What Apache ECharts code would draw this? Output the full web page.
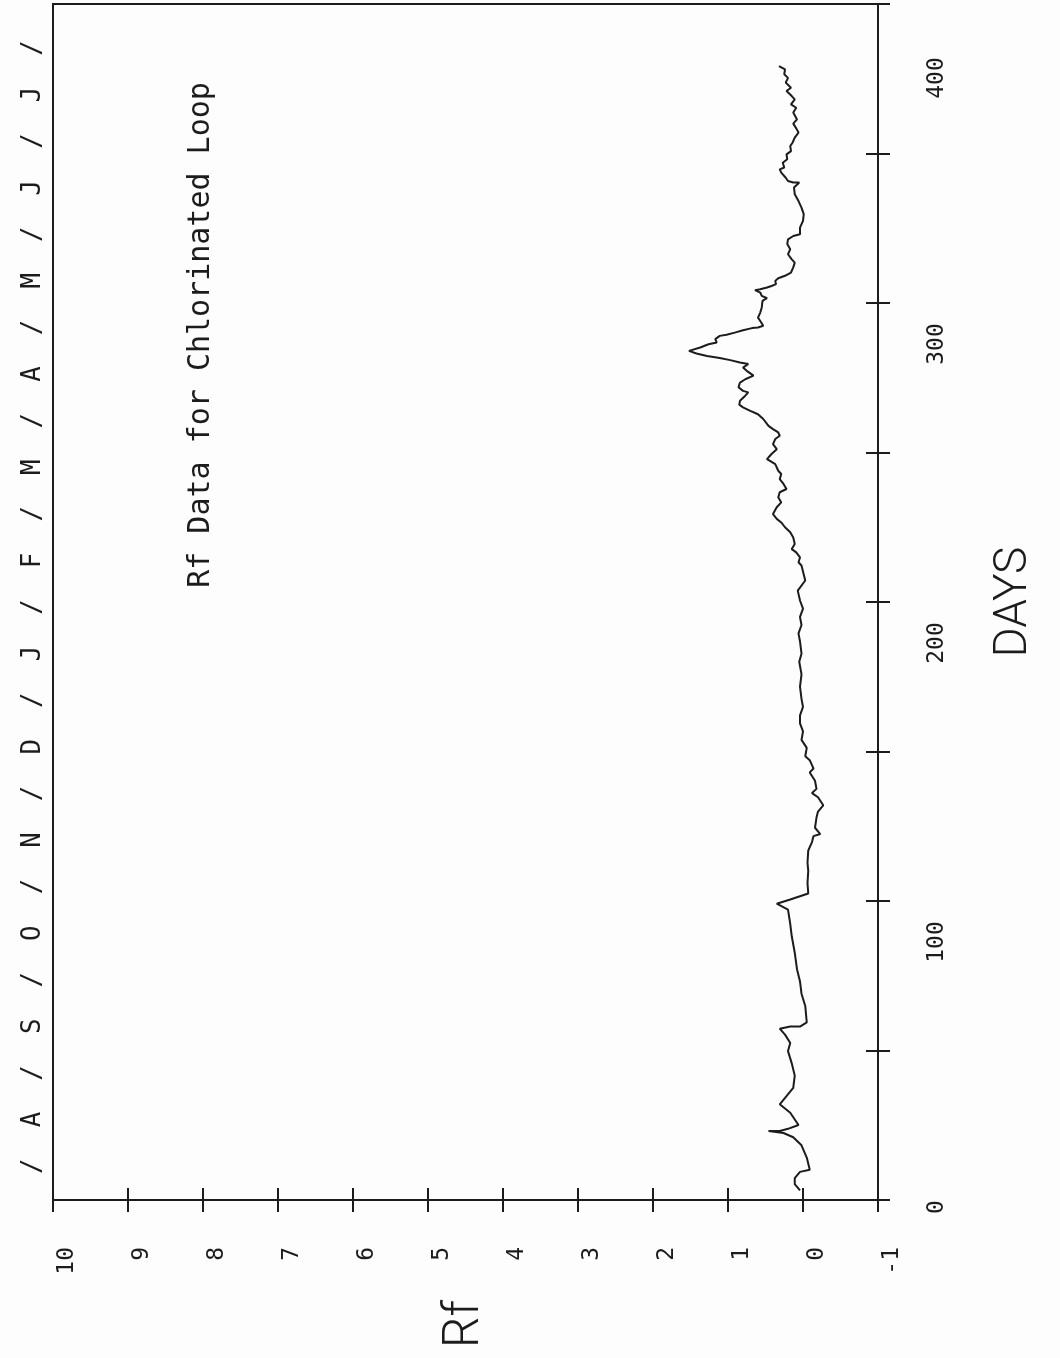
<!DOCTYPE html>
<html>
<head>
<meta charset="utf-8">
<script src="https://cdn.jsdelivr.net/npm/echarts@6/dist/echarts.min.js"></script>
<style>
  html, body { margin: 0; padding: 0; background: #fdfdfd; }
  #rfChart { width: 1060px; height: 1358px; }
</style>
</head>
<body>
<div id="rfChart"></div>
<script>
// values, in day order
const days = [
  3.2, 5.3, 7.3, 9.4, 10.1, 14.2, 18.3, 21.0, 22.4, 23.1, 23.1, 23.8, 25.1, 29.2, 32.0, 37.5,
  41.6, 45.7, 49.8, 52.5, 55.3, 57.3, 58.0, 58.0, 59.4, 64.9, 69.0, 73.1, 77.2, 82.7, 88.2, 92.3,
  97.1, 99.1, 100.5, 102.5, 106.0, 110.1, 112.8, 116.9, 119.7, 121.7, 122.4, 124.5, 127.9, 129.9,
  132.0, 134.7, 136.1, 137.5, 140.2, 143.0, 144.3, 147.1, 148.4, 151.2, 153.9, 156.7, 159.4, 162.1,
  164.9, 167.6, 171.7, 175.8, 180.0, 182.7, 186.8, 189.5, 192.3, 195.0, 197.8, 200.5, 203.8, 207.2,
  212.2, 213.3, 214.9, 216.6, 217.7, 219.4, 221.6, 223.3, 225.0, 226.6, 227.8, 229.4, 231.7, 233.3,
  235.0, 236.7, 237.8, 239.5, 241.1, 242.8, 243.9, 246.1, 247.2, 247.8, 249.5, 251.1, 252.8, 254.5,
  255.6, 256.7, 257.8, 258.9, 261.2, 262.8, 264.0, 265.1, 266.0, 267.3, 269.0, 270.1, 270.6, 271.8,
  273.4, 274.5, 275.7, 277.3, 278.4, 279.6, 280.1, 280.9, 281.6, 282.3, 283.1, 284.0, 285.1, 286.2,
  286.8, 287.9, 289.0, 289.4, 290.1, 290.9, 291.6, 291.8, 292.4, 294.0, 295.1, 296.8, 298.5, 300.7,
  301.6, 302.4, 303.5, 304.3, 304.6, 305.2, 305.7, 306.3, 307.4, 308.3, 309.1, 310.2, 311.9, 313.5,
  314.6, 316.3, 318.0, 319.7, 321.3, 322.4, 323.0, 323.5, 325.2, 327.5, 329.7, 331.9, 334.1, 336.4,
  338.6, 340.3, 340.3, 340.8, 341.9, 343.6, 344.7, 345.3, 346.9, 348.1, 349.7, 350.8, 352.5, 353.6,
  355.3, 357.0, 358.4, 360.0, 361.4, 363.7, 365.3, 366.4, 368.1, 369.2, 370.9, 372.0, 373.7, 375.3,
  376.5, 378.1, 379.2
]
const rfValues = [
  0.04, 0.11, 0.11, 0.04, -0.09, -0.05, 0.02, 0.13, 0.26, 0.46, 0.31, 0.20, 0.06, 0.17, 0.31, 0.13,
  0.11, 0.15, 0.20, 0.17, 0.24, 0.31, 0.17, 0.04, -0.05, -0.03, 0.02, 0.04, 0.08, 0.11, 0.15, 0.17,
  0.20, 0.35, 0.17, -0.07, -0.06, -0.07, -0.06, -0.07, -0.12, -0.14, -0.23, -0.16, -0.18, -0.20,
  -0.27, -0.20, -0.12, -0.18, -0.16, -0.09, -0.14, -0.09, -0.03, -0.05, 0.02, 0.00, 0.04, 0.04,
  0.00, 0.02, 0.04, 0.02, 0.05, 0.02, 0.04, 0.06, 0.02, 0.04, 0.00, 0.04, 0.07, -0.03,
  0.02, 0.06, 0.04, 0.09, 0.15, 0.11, 0.13, 0.17, 0.24, 0.29, 0.35, 0.40, 0.35, 0.29,
  0.33, 0.31, 0.22, 0.26, 0.31, 0.29, 0.33, 0.37, 0.44, 0.48, 0.42, 0.35, 0.40, 0.37,
  0.31, 0.33, 0.40, 0.46, 0.53, 0.60, 0.71, 0.80, 0.85, 0.84, 0.77, 0.73, 0.80, 0.86,
  0.84, 0.77, 0.66, 0.75, 0.80, 0.73, 0.84, 0.97, 1.11, 1.28, 1.42, 1.52, 1.37, 1.26,
  1.15, 1.17, 1.11, 1.02, 0.91, 0.80, 0.68, 0.60, 0.53, 0.57, 0.60, 0.57, 0.55, 0.54,
  0.48, 0.55, 0.57, 0.64, 0.57, 0.48, 0.42, 0.36, 0.37, 0.33, 0.24, 0.16, 0.13, 0.11,
  0.15, 0.20, 0.17, 0.21, 0.20, 0.13, 0.04, 0.06, 0.04, 0.00, -0.01, 0.02, 0.06, 0.11,
  0.12, 0.05, 0.13, 0.20, 0.23, 0.29, 0.31, 0.25, 0.27, 0.21, 0.22, 0.16, 0.17, 0.14,
  0.11, 0.06, 0.09, 0.13, 0.08, 0.13, 0.09, 0.16, 0.11, 0.15, 0.22, 0.16, 0.23, 0.20,
  0.25, 0.24, 0.32
]
const dayLabels = [0, 100, 200, 300, 400]
const monthLetters = ['A', 'S', 'O', 'N', 'D', 'J', 'F', 'M', 'A', 'M', 'J', 'J']
const titleText = 'Rf Data for Chlorinated Loop'

const ink = '#1c1c1c'
const mono = '"DejaVu Sans Mono", "Liberation Mono", monospace'
const thin = 'Roboto, "DejaVu Sans", sans-serif'

const chart = echarts.init(document.getElementById('rfChart'))

const tickStyle = { color: ink, width: 2 }
const monthLine = '/  ' + monthLetters.join('  /  ') + '  /'

const dayLabelStyle = (shift) => ({
  fontFamily: mono, fontSize: 23, color: ink, padding: [0, shift, 0, 0]
})

const option = {
  backgroundColor: '#fdfdfd',
  animation: false,
  grid: {
    left: 53, right: 182, top: 4, bottom: 158,
    show: true, borderColor: ink, borderWidth: 2,
    outerBoundsMode: 'none'
  },
  xAxis: [
    {
      type: 'value', min: -1, max: 10, interval: 1, inverse: true, position: 'bottom',
      axisLine: { onZero: false, lineStyle: tickStyle },
      axisTick: { length: 12, lineStyle: tickStyle },
      splitLine: { show: false },
      axisLabel: {
        rotate: 90, margin: 47, color: ink, fontFamily: mono, fontSize: 23,
        verticalAlign: 'top', lineHeight: 28, showMinLabel: true, showMaxLabel: true
      },
      name: 'Rf', nameLocation: 'middle', nameGap: 100, nameRotate: 90, nameMoveOverlap: false,
      nameTextStyle: { fontFamily: thin, fontWeight: 300, fontSize: 50, color: ink }
    },
    {
      type: 'value', min: -1, max: 10, interval: 1, inverse: true, position: 'bottom',
      axisLine: { show: false, onZero: false },
      axisTick: { inside: true, length: 12, lineStyle: tickStyle },
      axisLabel: { show: false },
      splitLine: { show: false }
    }
  ],
  yAxis: [
    {
      type: 'value', min: 0, max: 400, interval: 50, position: 'right',
      axisLine: { onZero: false, lineStyle: tickStyle },
      axisTick: { length: 12, lineStyle: tickStyle },
      splitLine: { show: false },
      axisLabel: {
        rotate: 90, margin: 48, color: ink, fontFamily: mono, fontSize: 23,
        showMinLabel: true, showMaxLabel: true,
        formatter: (v) => {
          if (!dayLabels.includes(v)) return ''
          if (v === dayLabels[0]) return `{z|${v}}`
          if (v === dayLabels[dayLabels.length - 1]) return `{t|${v}}`
          return `{m|${v}}`
        },
        rich: { z: dayLabelStyle(14), m: dayLabelStyle(82), t: dayLabelStyle(148) }
      },
      name: 'DAYS', nameLocation: 'middle', nameGap: 113, nameRotate: 90, nameMoveOverlap: false,
      nameTextStyle: { fontFamily: thin, fontWeight: 300, fontSize: 46, color: ink }
    },
    {
      type: 'value', min: 0, max: 400, interval: 50, position: 'right',
      axisLine: { show: false, onZero: false },
      axisTick: { inside: true, length: 12, lineStyle: tickStyle },
      axisLabel: { show: false },
      splitLine: { show: false }
    }
  ],
  graphic: [
    {
      type: 'text', x: 33, y: 607, rotation: Math.PI / 2,
      style: {
        text: monthLine, font: `25.8px ${mono}`, fill: ink,
        align: 'center', verticalAlign: 'middle', textAlign: 'center', textVerticalAlign: 'middle'
      }
    },
    {
      type: 'text', x: 201, y: 335, rotation: Math.PI / 2,
      style: {
        text: titleText, font: `30px ${mono}`, fill: ink,
        align: 'center', verticalAlign: 'middle', textAlign: 'center', textVerticalAlign: 'middle'
      }
    }
  ],
  series: [
    {
      type: 'line',
      xAxisIndex: 0,
      yAxisIndex: 0,
      data: days.map((d, i) => [rfValues[i], d]),
      symbol: 'none',
      lineStyle: { color: ink, width: 2 },
      z: 3
    }
  ]
}

chart.setOption(option)
</script>
</body>
</html>
